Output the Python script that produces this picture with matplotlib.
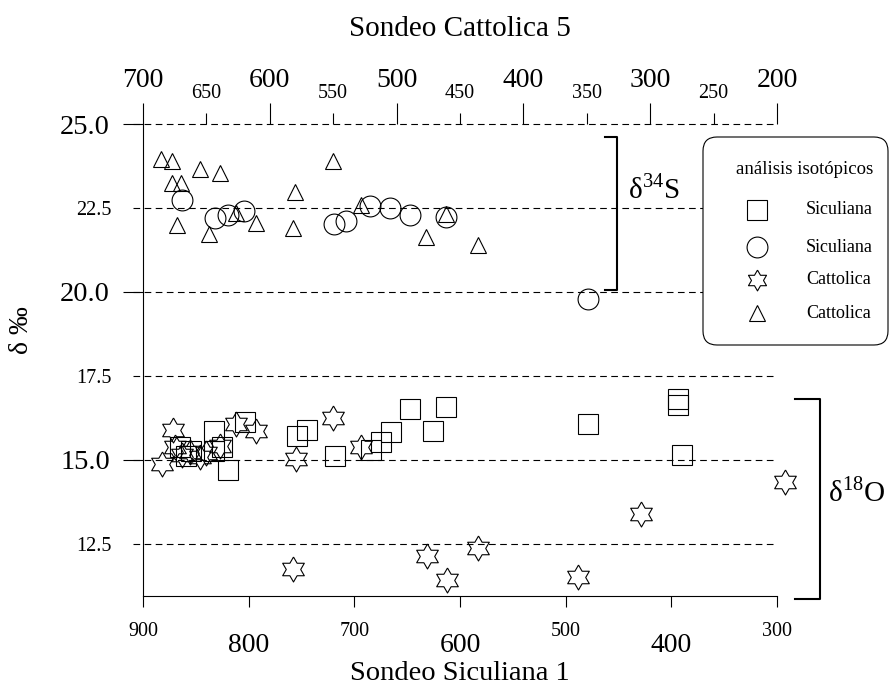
import numpy as np
import matplotlib
matplotlib.use("Agg")
import matplotlib.pyplot as plt
from matplotlib.patches import FancyBboxPatch
from matplotlib.lines import Line2D
from matplotlib.transforms import IdentityTransform, blended_transform_factory

plt.rcParams['font.family'] = ['Liberation Serif', 'DejaVu Serif']
plt.rcParams['mathtext.fontset'] = 'custom'
plt.rcParams['mathtext.rm'] = 'Liberation Serif'

# ---------------- data ----------------
# Sondeo Siculiana 1 (bottom axis)
sic_o18_depth = [865, 859, 855, 833, 833, 825, 820, 803, 754, 745, 718, 684, 675,
                 665, 647, 626, 613, 479, 394, 394, 390]
sic_o18_val = [15.39, 15.12, 15.27, 15.86, 15.27, 15.39, 14.70, 16.13, 15.71, 15.89,
               15.12, 15.30, 15.54, 15.83, 16.52, 15.86, 16.58, 16.07, 16.82, 16.64, 15.15]
sic_s34_depth = [863, 832, 820, 804, 719, 708, 685, 666, 647, 613, 479]
sic_s34_val = [22.73, 22.21, 22.28, 22.42, 22.02, 22.12, 22.57, 22.49, 22.29, 22.22, 19.80]

# Sondeo Cattolica 5 (top axis)
cat_o18_depth = [685, 676, 675, 669, 663, 655, 650, 639, 627, 611, 579, 582, 550, 528,
                 476, 460, 436, 357, 307, 194]
cat_o18_val = [14.88, 15.89, 15.39, 15.15, 15.24, 15.09, 15.21, 15.42, 16.07, 15.86,
               15.03, 11.76, 16.25, 15.39, 12.14, 11.43, 12.38, 11.52, 13.39, 14.35]
cat_s34_depth = [686, 677, 655, 639, 677, 670, 673, 648, 627, 611, 582, 580, 550, 528,
                 461, 477, 436]
cat_s34_val = [23.96, 23.91, 23.65, 23.53, 23.24, 23.25, 21.99, 21.72, 22.36, 22.06,
               21.90, 22.99, 23.89, 22.59, 22.32, 21.65, 21.41]

bottom_major = [800, 600, 400]
bottom_minor = [900, 700, 500, 300]
top_major = [700, 600, 500, 400, 300, 200]
top_minor = [650, 550, 450, 350, 250]
y_major = [25.0, 20.0, 15.0]
y_minor = [22.5, 17.5, 12.5]
ref_lines = [25.0, 22.5, 20.0, 17.5, 15.0, 12.5]

legend_title = 'análisis isotópicos'
legend_labels = ['Siculiana', 'Siculiana', 'Cattolica', 'Cattolica']

# ---------------- figure ----------------
W, H = 890, 688
fig = plt.figure(figsize=(W / 100, H / 100), dpi=100)
ax = fig.add_axes([143 / W, 1 - 596 / H, 634 / W, 472 / H])
ax.set_xlim(900, 300)
ax.set_ylim(10.95, 25.0)
ax2 = ax.twiny()
ax2.set_xlim(700, 200)

# hexagram marker
hexv = []
for k in range(12):
    a = np.deg2rad(90 + 30 * k)
    r = 1.0 if k % 2 == 0 else 1 / np.sqrt(3)
    hexv.append((r * np.cos(a), r * np.sin(a)))
hexv.append(hexv[0])

mk = dict(ls='none', mfc='none', mec='black', mew=0.8, clip_on=False, zorder=3)
sq_ms, ci_ms, st_ms, tr_ms = 15, 15, 18, 11.5
ax.plot(sic_o18_depth, sic_o18_val, marker='s', ms=sq_ms, **mk)
ax.plot(sic_s34_depth, sic_s34_val, marker='o', ms=ci_ms, **mk)
ax2.plot(cat_o18_depth, cat_o18_val, marker=hexv, ms=st_ms, **mk)
ax2.plot(cat_s34_depth, cat_s34_val, marker='^', ms=tr_ms, **mk)

# dashed reference lines
for v in ref_lines:
    ax.axhline(v, xmin=-0.016, xmax=1.0, clip_on=False, color='black',
               lw=0.8, ls=(0, (6, 4)), zorder=1)

# spines
for s in ['top', 'right']:
    ax.spines[s].set_visible(False)
for s in ['top', 'right', 'left', 'bottom']:
    ax2.spines[s].set_visible(False)
ax.spines['left'].set_linewidth(0.8)
ax.spines['bottom'].set_linewidth(0.8)

# ticks
ax.set_xticks(bottom_major, labels=[str(v) for v in bottom_major])
ax.set_xticks(bottom_minor, labels=[str(v) for v in bottom_minor], minor=True)
ax.set_yticks(y_major, labels=[f'{v:.1f}' for v in y_major])
ax.set_yticks(y_minor, labels=[f'{v:.1f}' for v in y_minor], minor=True)
ax2.set_xticks(top_major, labels=[str(v) for v in top_major])
ax2.set_xticks(top_minor, labels=[str(v) for v in top_minor], minor=True)

ax.tick_params(axis='x', which='major', direction='out', length=7.9, width=0.8, pad=19, labelsize=20)
ax.tick_params(axis='x', which='minor', direction='out', length=7.9, width=0.8, pad=11, labelsize=14.5)
ax.tick_params(axis='y', which='major', direction='out', length=14.4, width=0.8, pad=9.4, labelsize=20.5)
ax.tick_params(axis='y', which='minor', length=0, pad=22.5, labelsize=14.5)
ax2.tick_params(axis='x', which='major', direction='out', length=15.1, width=0.8, pad=7.4, labelsize=20)
ax2.tick_params(axis='x', which='minor', direction='out', length=7.6, width=0.8, pad=7.2, labelsize=14.5)

# axis labels
ax.set_xlabel('Sondeo Siculiana 1', fontsize=20.5)
ax.xaxis.label.set_va('center')
ax.xaxis.set_label_coords(0.5, (596 - 674) / 472)
ax2.set_xlabel('Sondeo Cattolica 5', fontsize=21)
ax2.xaxis.label.set_va('center')
ax2.xaxis.set_label_coords(0.5, (596 - 29) / 472)
ax.set_ylabel('δ ‰', fontsize=20)
ax.yaxis.label.set_va('center')
ax.yaxis.set_label_coords((22 - 143) / 634, (596 - 330) / 472)

# brackets
bt = blended_transform_factory(ax.transAxes, ax.transData)
ax.plot([0.7287, 0.7476, 0.7476, 0.7287], [24.61, 24.61, 20.06, 20.06],
        transform=bt, clip_on=False, color='black', lw=1.5)
ax.text(0.765, 23.04, r'δ$^{\mathrm{34}}$S', transform=bt, ha='left', va='center', fontsize=21)
ax.plot([1.0284, 1.0678, 1.0678, 1.0284], [16.82, 16.82, 10.86, 10.86],
        transform=bt, clip_on=False, color='black', lw=1.5)
ax.text(1.0804, 14.05, r'δ$^{\mathrm{18}}$O', transform=bt, ha='left', va='center', fontsize=21)

# legend (drawn manually in pixel space)
T = IdentityTransform()
box = FancyBboxPatch((703, H - 345), 185, 208, boxstyle='round,pad=0,rounding_size=14',
                     transform=T, fc='white', ec='black', lw=0.8, zorder=5)
fig.add_artist(box)
fig.text(805, H - 170, legend_title, transform=T, ha='center', va='center',
         fontsize=13.5, zorder=7)
leg_markers = [('s', 15), ('o', 15), (hexv, 15), ('^', 12)]
leg_y = [210, 247, 280, 313]
for (m, ms), lab, yy in zip(leg_markers, legend_labels, leg_y):
    fig.add_artist(Line2D([757], [H - yy], marker=m, ms=ms, ls='none', mfc='none',
                          mec='black', mew=0.8, transform=T, zorder=6))
    fig.text(806, H - yy, lab, transform=T, ha='left', va='center', fontsize=13, zorder=7)

fig.savefig('out.png', dpi=100)
